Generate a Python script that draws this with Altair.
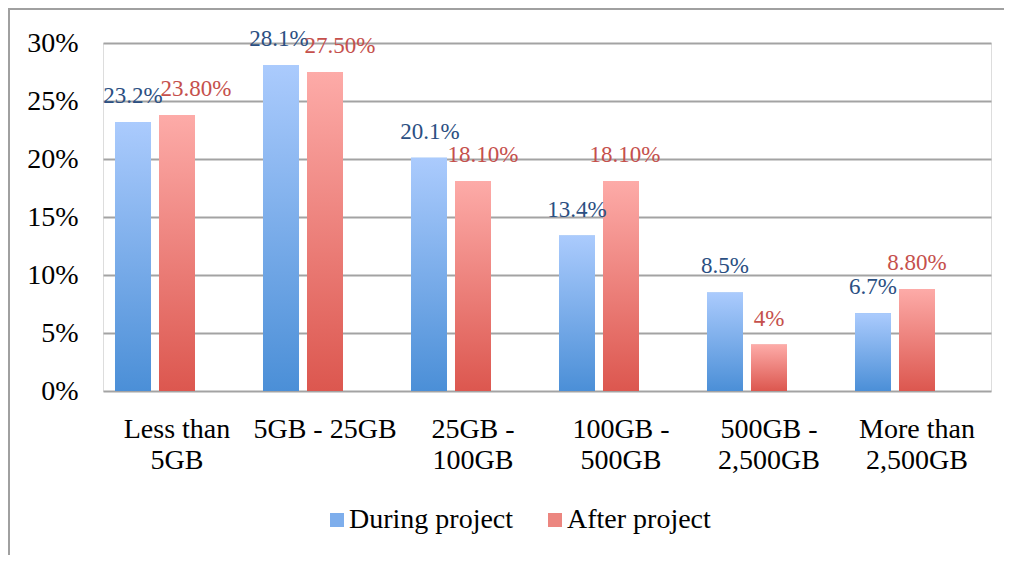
import altair as alt
import pandas as pd

# ---- data ----
categories = ["Less than|5GB", "5GB - 25GB", "25GB -|100GB", "100GB -|500GB",
              "500GB -|2,500GB", "More than|2,500GB"]
series_names = ["During project", "After project"]
during = [23.2, 28.1, 20.1, 13.4, 8.5, 6.7]
after = [23.8, 27.5, 18.1, 18.1, 4.0, 8.8]
during_labels = ["23.2%", "28.1%", "20.1%", "13.4%", "8.5%", "6.7%"]
after_labels = ["23.80%", "27.50%", "18.10%", "18.10%", "4%", "8.80%"]
y_ticks = [0, 5, 10, 15, 20, 25, 30]

# ---- style: horizontal nudges of data labels (px) ----
during_nudge = [0, -2, 1, 0, 0, 0]
after_nudge = [19, 15, 10, 4, 0, 0]

rows = []
for i, c in enumerate(categories):
    rows.append({"category": c, "series": series_names[0], "value": during[i],
                 "label": during_labels[i], "nudge": during_nudge[i]})
    rows.append({"category": c, "series": series_names[1], "value": after[i],
                 "label": after_labels[i], "nudge": after_nudge[i]})
df = pd.DataFrame(rows)

FONT = "Liberation Serif"
GRID = "#a3a3a3"

blue_grad = {"gradient": "linear", "x1": 0, "y1": 0, "x2": 0, "y2": 1,
             "stops": [{"offset": 0, "color": "#abcbfd"}, {"offset": 1, "color": "#4b8fd7"}]}
red_grad = {"gradient": "linear", "x1": 0, "y1": 0, "x2": 0, "y2": 1,
            "stops": [{"offset": 0, "color": "#fdaba8"}, {"offset": 1, "color": "#dc574f"}]}

x_enc = alt.X("category:N", sort=categories,
              scale=alt.Scale(paddingInner=0, paddingOuter=0),
              axis=alt.Axis(title=None, labelExpr="split(datum.label, '|')", labelAngle=0,
                            labelFont=FONT, labelFontSize=28, labelColor="black",
                            labelPadding=24, labelLineHeight=31, ticks=False,
                            domain=False, grid=False, labelBaseline="top"))
xoff_enc = alt.XOffset("series:N", sort=series_names,
                       scale=alt.Scale(domain=series_names, range=[0, 104],
                                       paddingInner=0.1818, paddingOuter=0.2727))
y_enc = alt.Y("value:Q", scale=alt.Scale(domain=[0, 30]),
              axis=alt.Axis(title=None, values=y_ticks, labelExpr="datum.value + '%'",
                            labelFont=FONT, labelFontSize=28, labelColor="black",
                            labelPadding=25, ticks=False, domain=False,
                            grid=True, gridColor=GRID, gridWidth=2))

base = alt.Chart(df).encode(x=x_enc, xOffset=xoff_enc, y=y_enc)

solid = base.mark_bar().encode(
    fill=alt.Fill("series:N", sort=series_names,
                  scale=alt.Scale(domain=series_names, range=["#7eaeec", "#ec8680"]),
                  legend=alt.Legend(title=None, orient="none", legendX=220, legendY=463,
                                    direction="horizontal", symbolType="square",
                                    symbolSize=196, symbolStrokeWidth=0,
                                    labelFont=FONT, labelFontSize=28, labelColor="black",
                                    labelOffset=alt.expr("-2"), columnPadding=27, padding=0,
                                    labelLimit=400))
)

grad = base.mark_bar().encode(
    fill=alt.condition(alt.datum.series == series_names[0], alt.value(blue_grad), alt.value(red_grad))
)

text = base.mark_text(baseline="alphabetic", align="center", dy=-19, font=FONT,
                      fontSize=23, dx=alt.expr("datum.nudge")).encode(
    text="label:N",
    color=alt.condition(alt.datum.series == series_names[0], alt.value("#2b4f82"), alt.value("#c5504c")),
)

frame_data = alt.Data(values=[{"k": 1}])
left_border = alt.Chart(frame_data).mark_rule(color="#a0a0a0", strokeWidth=2).encode(
    x=alt.value(-94), y=alt.value(-35), y2=alt.value(512))
top_border = alt.Chart(frame_data).mark_rule(color="#a0a0a0", strokeWidth=2).encode(
    y=alt.value(-34), x=alt.value(-95), x2=alt.value(901))

chart = alt.layer(solid, grad, text, left_border, top_border).properties(
    width=888, height=348,
    padding={"left": 95, "top": 35, "right": 13, "bottom": 164},
    autosize=alt.AutoSizeParams(type="none"),
).configure_view(stroke=None).configure(background="white")

chart.save("out.html", embed_options={"renderer": "svg", "actions": False})
